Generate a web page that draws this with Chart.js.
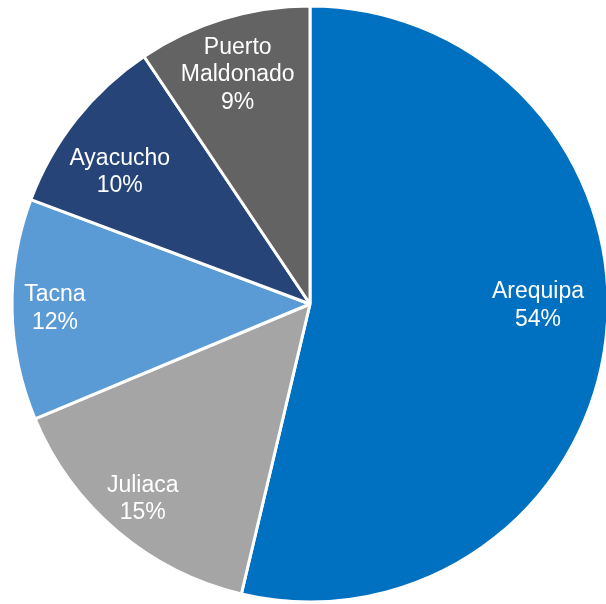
<!DOCTYPE html>
<html>
<head>
<meta charset="utf-8">
<style>
  html, body { margin: 0; padding: 0; background: #fff; overflow: hidden; }
  #wrap { position: absolute; left: 0; top: -6px; width: 620px; height: 620px; }
</style>
<script src="https://cdn.jsdelivr.net/npm/chart.js@4/dist/chart.umd.min.js"></script>
</head>
<body>
<div id="wrap"><canvas id="pie" width="620" height="620"></canvas></div>
<script>
  var cities = ['Arequipa', 'Juliaca', 'Tacna', 'Ayacucho', 'Puerto\nMaldonado'];
  var shares = [53.7, 15.0, 12.0, 9.9, 9.4];
  var sliceColors = ['#0070C0', '#A5A5A5', '#5B9BD5', '#264478', '#636363'];

  // where each label sits: fraction of the radius, and a small angle nudge (deg)
  var labelRadius = [0.765, 0.862, 0.856, 0.777, 0.806];
  var labelTurn = [-6.2, 0.3, 0, -3.6, -0.6];

  var sliceLabels = {
    id: 'sliceLabels',
    afterDatasetsDraw: function (chart) {
      var ctx = chart.ctx;
      var meta = chart.getDatasetMeta(0);
      ctx.save();
      ctx.fillStyle = '#ffffff';
      ctx.font = '23px "Liberation Sans", Arial, sans-serif';
      ctx.textAlign = 'center';
      ctx.textBaseline = 'middle';
      var lineH = 27.5;
      meta.data.forEach(function (arc, i) {
        var p = arc.getProps(['x', 'y', 'startAngle', 'endAngle', 'outerRadius'], true);
        var mid = (p.startAngle + p.endAngle) / 2 + labelTurn[i] * Math.PI / 180;
        var r = p.outerRadius * labelRadius[i];
        var cx = p.x + Math.cos(mid) * r;
        var cy = p.y + Math.sin(mid) * r;
        var lines = cities[i].split('\n');
        lines.push(Math.round(shares[i]) + '%');
        var top = cy - (lines.length - 1) * lineH / 2;
        lines.forEach(function (t, k) {
          ctx.fillText(t, cx, top + k * lineH);
        });
      });
      ctx.restore();
    }
  };

  var ctx = document.getElementById('pie').getContext('2d');
  window.myPie = new Chart(ctx, {
    type: 'pie',
    data: {
      labels: cities,
      datasets: [{
        data: shares,
        backgroundColor: sliceColors,
        borderColor: '#ffffff',
        borderWidth: 3,
        radius: 298
      }]
    },
    options: {
      responsive: false,
      animation: false,
      plugins: {
        legend: { display: false },
        tooltip: { enabled: false }
      }
    },
    plugins: [sliceLabels]
  });
</script>
</body>
</html>
